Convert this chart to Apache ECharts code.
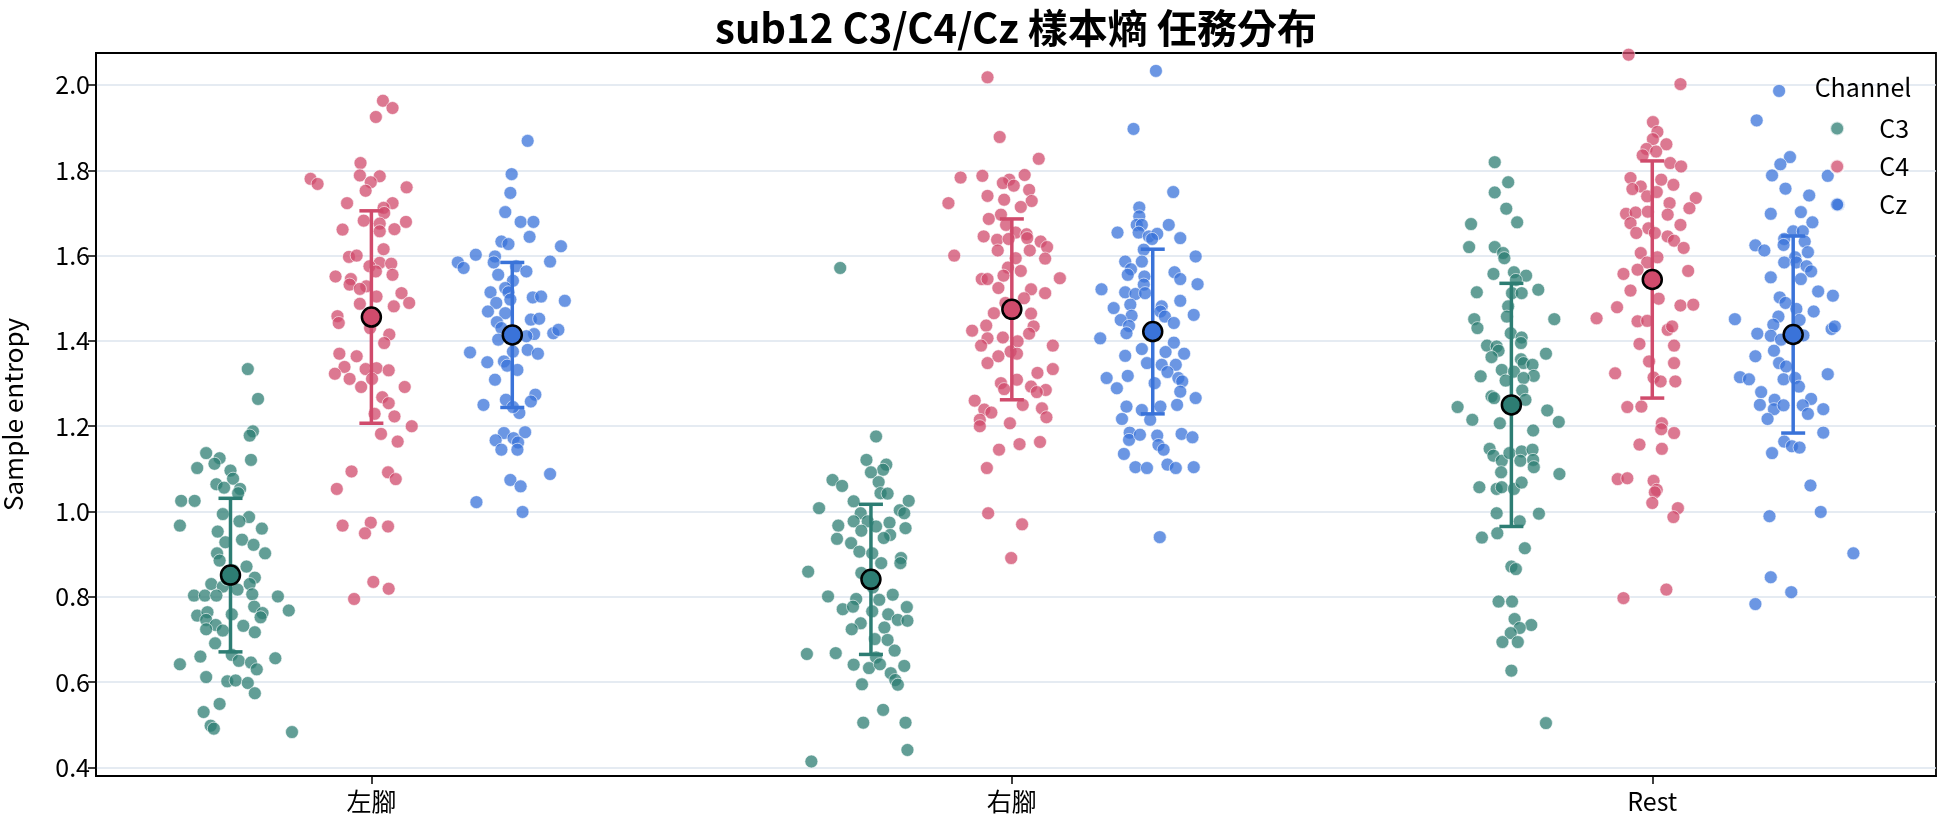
<!DOCTYPE html>
<html>
<head>
<meta charset="utf-8">
<script src="https://cdn.jsdelivr.net/npm/echarts@6/dist/echarts.min.js"></script>
<style>
  html, body { margin: 0; padding: 0; background: #fff; }
  #chart { width: 1944px; height: 827px; }
</style>
</head>
<body>
<div id="chart"></div>
<script>
const tasks = ['左腳', '右腳', 'Rest'];
const channels = ['C3', 'C4', 'Cz'];
const yTicks = [0.4, 0.6, 0.8, 1.0, 1.2, 1.4, 1.6, 1.8, 2.0];

// points per task: [jitter, sample entropy]
const c3Left = [[0.027,1.334],[0.043,1.264],[0.035,1.188],[0.03,1.178],[-0.038,1.137],[-0.017,1.125],[-0.025,1.112],[-0.052,1.102],[0.032,1.121],[0.0,1.096],[0.004,1.077],[-0.022,1.064],[-0.01,1.056],[0.015,1.053],[0.012,1.043],[-0.077,1.025],[-0.056,1.025],[-0.012,0.994],[0.029,0.987],[-0.079,0.967],[0.014,0.977],[0.049,0.96],[-0.02,0.953],[0.018,0.934],[-0.008,0.928],[0.036,0.922],[0.054,0.902],[-0.021,0.902],[-0.017,0.885],[0.025,0.871],[0.038,0.845],[-0.03,0.83],[-0.012,0.824],[0.03,0.83],[0.011,0.817],[0.034,0.806],[-0.057,0.803],[-0.04,0.803],[-0.022,0.803],[0.074,0.801],[0.037,0.777],[0.091,0.768],[-0.052,0.756],[-0.036,0.764],[0.05,0.762],[0.002,0.759],[0.047,0.752],[-0.038,0.746],[-0.023,0.734],[0.02,0.732],[-0.038,0.724],[-0.012,0.721],[0.038,0.717],[-0.024,0.691],[0.002,0.664],[-0.047,0.66],[0.07,0.656],[0.013,0.65],[-0.079,0.642],[0.032,0.646],[0.041,0.63],[-0.038,0.612],[-0.005,0.602],[0.008,0.604],[0.027,0.598],[0.038,0.574],[-0.017,0.549],[-0.042,0.53],[-0.031,0.498],[-0.026,0.491],[0.096,0.483],[0.004,0.862],[-0.006,0.842]];
const c3Right = [[-0.048,1.571],[0.008,1.176],[-0.007,1.121],[0.024,1.11],[0.019,1.098],[0.0,1.092],[-0.06,1.074],[-0.045,1.06],[0.012,1.069],[0.015,1.043],[0.026,1.042],[-0.027,1.024],[0.059,1.025],[-0.081,1.008],[0.045,1.003],[0.052,0.996],[-0.016,0.996],[-0.027,0.977],[-0.005,0.977],[0.008,0.965],[0.029,0.974],[-0.051,0.967],[0.054,0.961],[-0.015,0.955],[0.03,0.945],[-0.053,0.936],[0.02,0.938],[-0.031,0.926],[-0.018,0.906],[0.002,0.902],[0.047,0.891],[0.046,0.879],[0.016,0.879],[-0.098,0.859],[-0.015,0.856],[-0.067,0.801],[0.034,0.805],[-0.023,0.795],[0.013,0.793],[-0.044,0.771],[0.056,0.776],[-0.028,0.777],[0.002,0.766],[0.027,0.759],[0.042,0.746],[0.057,0.744],[-0.016,0.738],[-0.03,0.724],[0.021,0.728],[0.006,0.701],[0.026,0.699],[-0.1,0.666],[-0.055,0.668],[0.037,0.674],[0.008,0.658],[-0.027,0.641],[-0.003,0.633],[0.014,0.642],[0.052,0.638],[0.031,0.621],[0.038,0.605],[-0.014,0.595],[0.042,0.594],[0.019,0.535],[-0.012,0.505],[0.054,0.505],[0.057,0.441],[-0.093,0.414],[0.003,0.822],[-0.004,0.848]];
const c3Rest = [[-0.026,1.819],[-0.005,1.772],[-0.026,1.748],[-0.008,1.71],[0.009,1.678],[-0.063,1.674],[-0.066,1.62],[-0.026,1.62],[-0.013,1.606],[-0.011,1.594],[-0.028,1.557],[0.004,1.561],[0.023,1.553],[0.007,1.543],[-0.054,1.514],[0.001,1.512],[0.016,1.512],[0.042,1.52],[-0.005,1.481],[-0.058,1.451],[-0.007,1.457],[0.067,1.451],[-0.053,1.43],[-0.001,1.418],[0.016,1.408],[0.015,1.395],[-0.038,1.389],[-0.023,1.387],[-0.02,1.377],[0.054,1.37],[-0.031,1.362],[0.015,1.357],[0.019,1.348],[0.033,1.344],[-0.015,1.332],[0.004,1.328],[-0.048,1.317],[0.035,1.318],[0.019,1.313],[-0.009,1.307],[0.017,1.284],[-0.031,1.27],[-0.027,1.266],[0.022,1.262],[-0.084,1.245],[0.056,1.237],[-0.061,1.215],[-0.018,1.207],[0.034,1.19],[0.074,1.21],[-0.034,1.147],[-0.028,1.131],[-0.015,1.119],[-0.003,1.137],[0.016,1.141],[0.033,1.145],[0.014,1.119],[0.034,1.121],[0.035,1.104],[-0.016,1.092],[0.075,1.088],[-0.05,1.057],[-0.023,1.053],[-0.015,1.057],[0.004,1.053],[0.016,1.068],[-0.023,0.996],[0.043,0.995],[0.013,0.977],[-0.046,0.939],[-0.022,0.949],[0.021,0.914],[0.0,0.871],[0.007,0.865],[-0.02,0.789],[0.001,0.789],[0.005,0.748],[0.031,0.734],[0.013,0.727],[-0.001,0.715],[-0.014,0.694],[0.01,0.694],[0.0,0.627],[0.054,0.504]];

const c4Left = [[0.018,1.963],[0.033,1.946],[0.007,1.925],[-0.017,1.817],[-0.095,1.78],[-0.084,1.768],[-0.018,1.788],[0.013,1.786],[-0.001,1.772],[0.055,1.76],[-0.009,1.752],[-0.038,1.723],[0.033,1.723],[0.019,1.712],[0.02,1.7],[-0.012,1.682],[0.054,1.679],[0.013,1.675],[-0.045,1.661],[0.036,1.662],[0.013,1.657],[0.019,1.615],[-0.035,1.597],[-0.023,1.6],[0.013,1.583],[0.031,1.581],[-0.003,1.575],[0.007,1.563],[0.033,1.555],[-0.056,1.551],[-0.032,1.545],[-0.034,1.532],[-0.008,1.528],[-0.018,1.522],[0.008,1.504],[0.047,1.512],[0.059,1.489],[-0.018,1.487],[0.035,1.481],[-0.053,1.458],[-0.051,1.442],[-0.002,1.43],[0.028,1.415],[0.02,1.395],[-0.05,1.37],[-0.023,1.364],[-0.042,1.339],[-0.009,1.334],[0.008,1.336],[0.027,1.331],[-0.057,1.323],[-0.034,1.311],[0.001,1.311],[-0.016,1.292],[0.052,1.292],[0.017,1.268],[0.027,1.254],[0.005,1.229],[0.036,1.223],[0.063,1.2],[0.015,1.182],[0.041,1.164],[-0.031,1.094],[0.026,1.092],[0.038,1.076],[-0.054,1.053],[-0.045,0.967],[-0.001,0.974],[0.026,0.965],[-0.01,0.949],[0.003,0.835],[0.027,0.819],[-0.027,0.795]];
const c4Right = [[-0.038,2.018],[-0.019,1.878],[0.042,1.827],[-0.08,1.783],[-0.046,1.787],[-0.004,1.778],[0.02,1.789],[-0.014,1.77],[0.003,1.764],[0.027,1.754],[-0.038,1.74],[-0.012,1.731],[0.031,1.728],[-0.099,1.723],[0.014,1.714],[-0.017,1.696],[-0.036,1.686],[-0.009,1.672],[0.006,1.654],[0.023,1.65],[-0.044,1.645],[-0.023,1.637],[-0.005,1.639],[0.045,1.633],[0.024,1.641],[0.055,1.62],[-0.022,1.612],[0.028,1.612],[-0.09,1.6],[0.052,1.593],[0.006,1.594],[-0.006,1.572],[0.014,1.564],[-0.013,1.553],[-0.047,1.545],[-0.038,1.545],[0.075,1.547],[-0.021,1.524],[0.03,1.521],[0.052,1.512],[0.019,1.5],[-0.01,1.489],[-0.028,1.465],[0.03,1.464],[-0.04,1.436],[0.034,1.434],[-0.062,1.424],[0.027,1.417],[-0.038,1.406],[-0.014,1.408],[0.009,1.399],[-0.048,1.389],[0.064,1.389],[-0.002,1.375],[-0.021,1.364],[0.008,1.37],[-0.038,1.348],[0.064,1.334],[0.04,1.325],[-0.017,1.301],[0.008,1.309],[-0.012,1.287],[0.03,1.293],[0.053,1.285],[0.039,1.28],[0.017,1.25],[-0.058,1.26],[-0.043,1.239],[-0.032,1.232],[0.047,1.242],[0.054,1.221],[-0.05,1.215],[-0.003,1.207],[-0.05,1.2],[-0.02,1.145],[0.012,1.158],[0.044,1.163],[-0.039,1.102],[-0.037,0.996],[0.016,0.97],[-0.001,0.891]];
const c4Rest = [[-0.037,2.071],[0.044,2.002],[0.001,1.913],[0.008,1.89],[0.001,1.873],[0.022,1.861],[-0.009,1.85],[0.006,1.844],[-0.015,1.835],[0.028,1.817],[0.045,1.809],[-0.034,1.782],[-0.018,1.762],[0.014,1.778],[0.033,1.766],[-0.031,1.756],[-0.008,1.739],[0.007,1.749],[0.068,1.735],[0.027,1.723],[0.058,1.711],[-0.041,1.698],[-0.026,1.701],[-0.007,1.703],[0.024,1.696],[-0.034,1.676],[0.044,1.672],[-0.006,1.664],[0.004,1.653],[-0.025,1.653],[0.024,1.645],[0.034,1.635],[0.049,1.618],[-0.018,1.606],[0.008,1.596],[-0.008,1.584],[-0.045,1.557],[-0.023,1.567],[0.056,1.564],[0.01,1.499],[-0.034,1.518],[-0.055,1.479],[0.044,1.483],[0.064,1.485],[-0.087,1.453],[-0.023,1.446],[-0.008,1.447],[0.024,1.426],[0.031,1.434],[-0.02,1.393],[0.034,1.389],[-0.005,1.352],[0.034,1.348],[-0.058,1.324],[0.002,1.314],[0.013,1.305],[0.036,1.305],[-0.039,1.245],[-0.017,1.246],[0.015,1.207],[0.034,1.184],[0.014,1.193],[-0.02,1.157],[0.015,1.147],[-0.054,1.076],[-0.039,1.078],[0.002,1.072],[0.007,1.051],[0.004,1.045],[0.0,1.02],[0.04,1.008],[0.033,0.987],[0.022,0.817],[-0.045,0.797]];

const czLeft = [[0.024,1.869],[-0.001,1.791],[-0.003,1.747],[-0.011,1.702],[0.013,1.679],[0.033,1.679],[0.027,1.644],[-0.017,1.633],[-0.006,1.627],[0.076,1.622],[-0.057,1.602],[-0.027,1.598],[-0.085,1.584],[-0.076,1.571],[-0.029,1.584],[0.006,1.575],[0.022,1.563],[0.059,1.586],[-0.022,1.555],[0.001,1.541],[-0.011,1.524],[-0.034,1.514],[-0.006,1.514],[0.032,1.502],[0.045,1.504],[0.082,1.494],[-0.025,1.489],[-0.003,1.497],[-0.038,1.469],[-0.011,1.465],[0.029,1.45],[0.042,1.452],[-0.024,1.444],[-0.017,1.43],[0.064,1.418],[0.072,1.426],[0.034,1.416],[-0.022,1.403],[0.022,1.411],[-0.066,1.373],[0.001,1.375],[0.024,1.379],[0.04,1.37],[-0.039,1.35],[-0.013,1.352],[0.008,1.332],[-0.008,1.342],[-0.027,1.309],[0.036,1.274],[0.029,1.258],[-0.045,1.25],[-0.01,1.262],[0.011,1.231],[0.001,1.245],[-0.013,1.184],[0.02,1.186],[-0.026,1.167],[0.002,1.172],[0.009,1.162],[-0.017,1.145],[0.008,1.145],[0.059,1.088],[-0.003,1.074],[0.013,1.059],[-0.056,1.022],[0.016,0.999]];
const czRight = [[0.005,2.033],[-0.03,1.897],[0.032,1.749],[-0.021,1.713],[-0.021,1.692],[-0.025,1.672],[-0.017,1.672],[0.025,1.672],[-0.055,1.654],[-0.022,1.654],[-0.006,1.645],[0.007,1.651],[-0.001,1.639],[0.043,1.641],[-0.014,1.614],[0.067,1.598],[-0.043,1.586],[-0.017,1.586],[-0.034,1.568],[0.034,1.561],[-0.039,1.555],[-0.013,1.551],[0.043,1.545],[0.07,1.533],[-0.014,1.532],[-0.08,1.521],[-0.043,1.514],[-0.027,1.51],[-0.012,1.512],[0.043,1.494],[-0.035,1.485],[-0.061,1.477],[0.014,1.481],[0.012,1.469],[0.064,1.461],[-0.033,1.459],[0.019,1.457],[-0.05,1.449],[0.033,1.442],[-0.037,1.435],[-0.041,1.418],[-0.082,1.406],[0.033,1.396],[-0.017,1.381],[0.02,1.374],[-0.043,1.365],[0.049,1.37],[-0.009,1.348],[0.014,1.344],[0.036,1.344],[0.023,1.327],[0.04,1.313],[-0.072,1.313],[-0.039,1.318],[0.046,1.305],[0.003,1.301],[-0.056,1.289],[0.043,1.281],[0.067,1.266],[-0.041,1.246],[0.012,1.246],[0.038,1.25],[-0.017,1.238],[-0.048,1.217],[-0.004,1.215],[-0.036,1.185],[-0.037,1.168],[-0.02,1.18],[0.007,1.178],[0.045,1.182],[0.062,1.174],[0.009,1.156],[0.017,1.145],[-0.045,1.135],[-0.027,1.104],[-0.009,1.102],[0.023,1.11],[0.036,1.102],[0.064,1.104],[0.011,0.94]];
const czRest = [[-0.022,1.986],[-0.057,1.917],[-0.005,1.831],[-0.02,1.814],[-0.033,1.788],[0.054,1.787],[-0.012,1.757],[0.025,1.741],[0.071,1.719],[-0.035,1.698],[0.012,1.702],[0.03,1.678],[0.0,1.657],[0.015,1.657],[-0.014,1.639],[0.018,1.633],[-0.059,1.624],[-0.045,1.612],[-0.015,1.625],[0.023,1.608],[0.003,1.596],[-0.014,1.584],[0.005,1.584],[0.021,1.575],[0.028,1.563],[-0.035,1.549],[0.012,1.545],[0.039,1.516],[0.062,1.506],[-0.021,1.502],[-0.012,1.489],[0.005,1.475],[0.032,1.469],[-0.091,1.451],[-0.023,1.457],[-0.031,1.438],[0.01,1.449],[0.06,1.428],[0.065,1.434],[-0.056,1.417],[-0.035,1.412],[-0.019,1.403],[0.016,1.413],[-0.03,1.377],[-0.059,1.364],[-0.022,1.348],[-0.011,1.34],[0.054,1.322],[-0.083,1.315],[-0.069,1.31],[-0.015,1.31],[0.003,1.313],[0.009,1.293],[-0.05,1.28],[-0.029,1.262],[0.028,1.264],[-0.052,1.25],[-0.03,1.24],[-0.015,1.249],[0.015,1.249],[0.047,1.24],[-0.04,1.217],[0.023,1.229],[0.047,1.185],[-0.014,1.164],[-0.002,1.153],[0.01,1.15],[-0.033,1.137],[0.027,1.061],[-0.037,0.989],[0.043,0.999],[0.094,0.902],[-0.035,0.846],[-0.003,0.811],[-0.059,0.783]];

// mean and sd per task (左腳, 右腳, Rest)
const c3Mean = [0.851, 0.841, 1.250];
const c3Sd = [0.180, 0.176, 0.285];
const c4Mean = [1.456, 1.474, 1.544];
const c4Sd = [0.249, 0.212, 0.278];
const czMean = [1.414, 1.422, 1.415];
const czSd = [0.170, 0.193, 0.231];

const colors = { C3: '#2d7d73', C4: '#d04b6c', Cz: '#3a73d9' };
const dodge = { C3: -0.22, C4: 0, Cz: 0.22 };

const points = { C3: [c3Left, c3Right, c3Rest], C4: [c4Left, c4Right, c4Rest], Cz: [czLeft, czRight, czRest] };
const stats = { C3: [c3Mean, c3Sd], C4: [c4Mean, c4Sd], Cz: [czMean, czSd] };

const font = "'Noto Sans CJK TC', 'Noto Sans', sans-serif";

const stripSeries = channels.map(ch => ({
  name: ch,
  type: 'scatter',
  symbol: 'circle',
  symbolSize: 13,
  itemStyle: { color: colors[ch], opacity: 0.75, borderColor: '#fff', borderWidth: 0.8 },
  emphasis: { disabled: true },
  z: 2,
  data: points[ch].flatMap((grp, t) => grp.map(p => [t + dodge[ch] + p[0], p[1]]))
}));

const errSeries = channels.map(ch => ({
  name: ch + ' sd',
  type: 'custom',
  z: 3,
  renderItem: (params, api) => {
    const x = api.value(0);
    const lo = api.coord([x, api.value(2)]);
    const hi = api.coord([x, api.value(3)]);
    const cap = 12;
    const style = { stroke: colors[ch], lineWidth: 3.5 };
    return {
      type: 'group',
      children: [
        { type: 'line', shape: { x1: lo[0], y1: lo[1], x2: hi[0], y2: hi[1] }, style },
        { type: 'line', shape: { x1: lo[0] - cap, y1: lo[1], x2: lo[0] + cap, y2: lo[1] }, style },
        { type: 'line', shape: { x1: hi[0] - cap, y1: hi[1], x2: hi[0] + cap, y2: hi[1] }, style }
      ]
    };
  },
  data: stats[ch][0].map((m, t) => [t + dodge[ch], m, m - stats[ch][1][t], m + stats[ch][1][t]])
}));

const meanSeries = channels.map(ch => ({
  name: ch + ' mean',
  type: 'scatter',
  symbol: 'circle',
  symbolSize: 19,
  z: 4,
  itemStyle: { color: colors[ch], opacity: 1, borderColor: '#000', borderWidth: 2.5 },
  emphasis: { disabled: true },
  data: stats[ch][0].map((m, t) => [t + dodge[ch], m])
}));

const chart = echarts.init(document.getElementById('chart'));
chart.setOption({
  backgroundColor: '#fff',
  animation: false,
  textStyle: { fontFamily: font },
  graphic: [
    {
      type: 'text', x: 1016, y: 28,
      style: { text: 'sub12 C3/C4/Cz 樣本熵 任務分布', font: "bold 40px 'Noto Sans CJK TC', sans-serif", fill: '#000', textAlign: 'center', textVerticalAlign: 'middle' }
    },
    {
      type: 'text', x: 1863, y: 87, z: 10,
      style: { text: 'Channel', font: "25px 'Noto Sans CJK TC', sans-serif", fill: '#000', textAlign: 'center', textVerticalAlign: 'middle' }
    }
  ],
  legend: {
    data: channels,
    orient: 'vertical',
    right: 30,
    top: 111,
    icon: 'circle',
    itemWidth: 14,
    itemHeight: 14,
    itemGap: 13,
    textStyle: { fontSize: 25, lineHeight: 24, color: '#000', fontFamily: font, padding: [0, 0, 0, 30] }
  },
  grid: {
    left: 96, right: 8, top: 53, bottom: 51,
    containLabel: false, outerBoundsMode: 'none',
    show: true, borderColor: '#000', borderWidth: 1.8, backgroundColor: 'transparent'
  },
  xAxis: {
    type: 'value',
    min: -0.43,
    max: 2.443,
    axisLine: { show: true, onZero: false, lineStyle: { color: '#000', width: 1.8 } },
    axisTick: { show: true, length: 8, lineStyle: { color: '#000', width: 1.5 }, customValues: [0, 1, 2] },
    axisLabel: { customValues: [0, 1, 2], formatter: v => tasks[Math.round(v)], fontSize: 25, color: '#000', margin: 13, fontFamily: font },
    splitLine: { show: false }
  },
  yAxis: {
    type: 'value',
    min: 0.38,
    max: 2.075,
    name: 'Sample entropy',
    nameLocation: 'middle',
    nameGap: 70,
    nameTextStyle: { fontSize: 26, color: '#000', fontFamily: font },
    axisLine: { show: true, onZero: false, lineStyle: { color: '#000', width: 1.8 } },
    axisTick: { show: true, length: 8, lineStyle: { color: '#000', width: 1.5 }, customValues: yTicks },
    axisLabel: { customValues: yTicks, formatter: v => v.toFixed(1), fontSize: 25, color: '#000', margin: 6, fontFamily: font },
    splitLine: { show: true, lineStyle: { color: '#dce5ee', width: 1.5 } }
  },
  series: [...stripSeries, ...errSeries, ...meanSeries]
});
</script>
</body>
</html>
